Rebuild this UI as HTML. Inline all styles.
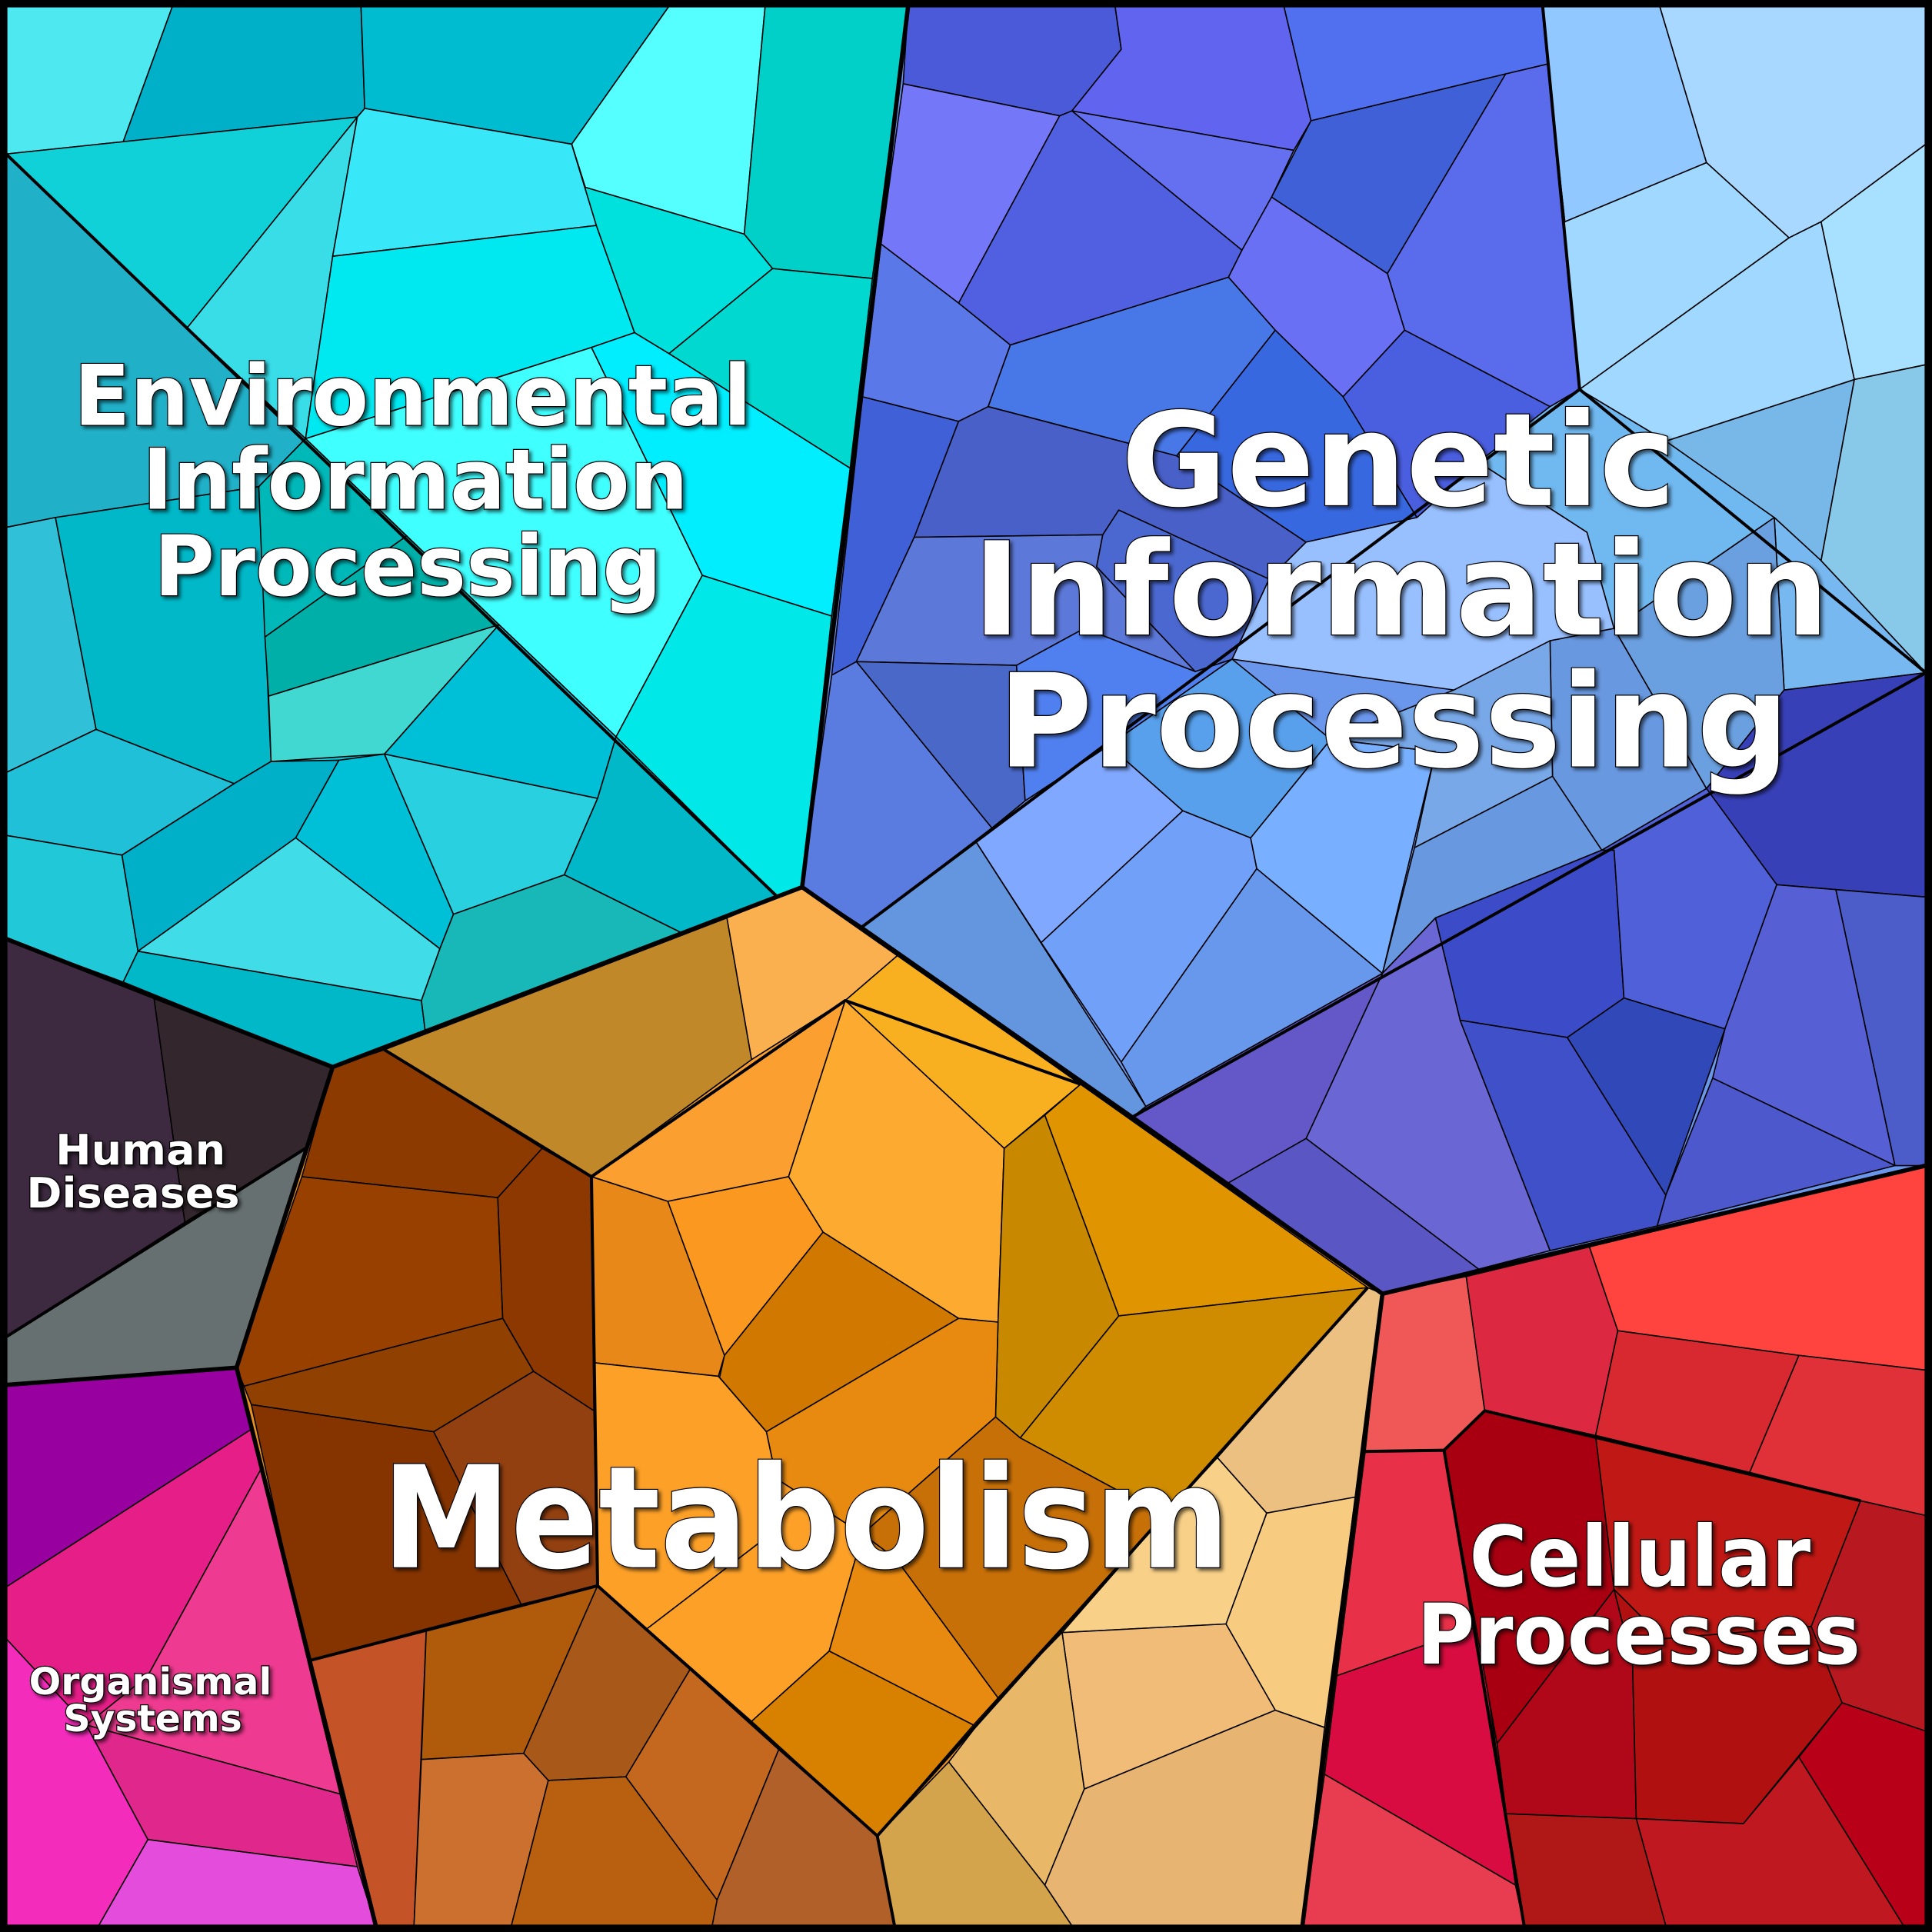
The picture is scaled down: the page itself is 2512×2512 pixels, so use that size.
<!DOCTYPE html>
<html><head><meta charset="utf-8"><style>
html,body{margin:0;padding:0;background:#000;}
svg{display:block;}
.c polygon{stroke:#000;stroke-width:1;stroke-linejoin:round;}
.b{fill:none;stroke:#000;stroke-width:3.5;stroke-linejoin:round;}
text{font-family:"DejaVu Sans","Liberation Sans",sans-serif;font-weight:bold;fill:#fff;stroke:#000;stroke-width:1.5;paint-order:stroke;text-anchor:middle;}
</style></head><body>
<svg width="2512" height="2512" viewBox="0 0 1568 1568" xmlns="http://www.w3.org/2000/svg">
<defs><filter id="sh" x="-5%" y="-5%" width="110%" height="120%"><feDropShadow dx="2" dy="2" stdDeviation="1.5" flood-color="#000" flood-opacity="0.6"/></filter></defs>
<rect width="1568" height="1568" fill="#000"/>
<!-- base region fills -->
<polygon fill="#10c8d8" points="5,5 737,5 651,720 270,866 5,762"/>
<polygon fill="#6a96ec" points="737,5 1563,5 1563,946 1122,1050 651,720"/>
<polygon fill="#e89020" points="651,720 1122,1050 1057,1563 305,1563 192,1110 270,866"/>
<polygon fill="#444" points="5,762 270,866 192,1110 5,1124"/>
<polygon fill="#e0288c" points="5,1124 192,1110 305,1563 5,1563"/>
<polygon fill="#c01820" points="1122,1050 1563,946 1563,1563 1057,1563"/>
<g class="c">
<!-- Environmental -->
<polygon fill="#4de8f0" points="5,5 140,5 100,115 5,125"/>
<polygon fill="#00b0c8" points="140,5 293,5 296,88 290,95 100,115"/>
<polygon fill="#00bcd0" points="293,5 543,5 464,117 296,88"/>
<polygon fill="#55ffff" points="543,5 621,5 604,190 475,152 464,117"/>
<polygon fill="#00d0c8" points="621,5 737,5 708,226 627,218 604,190"/>
<polygon fill="#10d0d8" points="5,125 100,115 290,95 152,266"/>
<polygon fill="#38dde8" points="290,95 270,208 248,356 152,266"/>
<polygon fill="#38e8f8" points="296,88 464,117 484,183 270,208 290,95"/>
<polygon fill="#00e8f0" points="270,208 484,183 515,270 480,282 248,356"/>
<polygon fill="#00e0dc" points="464,117 475,152 604,190 627,218 543,287 515,270 484,183"/>
<polygon fill="#00d8d0" points="627,218 708,226 690,380 543,287"/>
<polygon fill="#00eeff" points="515,270 543,287 690,380 675,500 570,467 480,282"/>
<polygon fill="#40ffff" points="248,356 480,282 570,467 500,598 405,507"/>
<polygon fill="#00e8e8" points="570,467 675,500 651,720 630,727 500,598"/>
<polygon fill="#20b0c8" points="5,125 152,266 248,356 210,395 45,420 5,428"/>
<polygon fill="#30c0d8" points="5,428 45,420 78,592 5,627"/>
<polygon fill="#00b8c8" points="45,420 210,395 220,618 190,636 78,592"/>
<polygon fill="#00b8b8" points="210,395 248,356 330,435 215,517"/>
<polygon fill="#00b0a8" points="215,517 330,435 405,507 218,565"/>
<polygon fill="#40d8d0" points="218,565 405,507 312,612 220,618"/>
<polygon fill="#00c0d8" points="405,507 500,598 485,648 312,612"/>
<polygon fill="#20c0d8" points="5,627 78,592 190,636 99,694 5,678"/>
<polygon fill="#20c8d8" points="5,678 99,694 112,772 100,797 5,762"/>
<polygon fill="#00b0c8" points="99,694 190,636 220,618 275,617 240,680 112,772"/>
<polygon fill="#00c0d8" points="275,617 312,612 368,742 357,770 240,680"/>
<polygon fill="#28d0e0" points="312,612 485,648 458,710 368,742"/>
<polygon fill="#00b8c8" points="485,648 500,598 630,727 553,757 458,710"/>
<polygon fill="#40dce8" points="112,772 240,680 357,770 342,812"/>
<polygon fill="#00b8c8" points="100,797 112,772 342,812 345,836 270,866"/>
<polygon fill="#18b8b8" points="368,742 458,710 553,757 345,836 342,812 357,770"/>
<!-- Genetic -->
<polygon fill="#4a5ad8" points="737,5 905,5 910,40 870,90 860,94 733,68"/>
<polygon fill="#6064ee" points="905,5 1042,5 1064,98 1050,122 870,90 910,40"/>
<polygon fill="#5070f0" points="1042,5 1252,5 1256,52 1222,60 1064,98"/>
<polygon fill="#90c8ff" points="1252,5 1347,5 1385,132 1270,180 1256,52"/>
<polygon fill="#a8d8ff" points="1347,5 1563,5 1563,117 1478,180 1452,193 1385,132"/>
<polygon fill="#7478f8" points="733,68 860,94 778,246 715,198"/>
<polygon fill="#5060e0" points="860,94 870,90 1008,203 997,225 820,280 778,246"/>
<polygon fill="#6470f0" points="870,90 1050,122 1032,160 1008,203"/>
<polygon fill="#4060d8" points="1064,98 1222,60 1126,222 1032,160"/>
<polygon fill="#5a6cec" points="1222,60 1256,52 1282,316 1258,330 1140,268 1126,222"/>
<polygon fill="#6a70f4" points="1032,160 1126,222 1140,268 1090,322 1035,268 997,225 1008,203"/>
<polygon fill="#5a78e8" points="715,198 778,246 820,280 802,330 778,342 700,322"/>
<polygon fill="#4878e8" points="820,280 997,225 1035,268 955,370 802,330"/>
<polygon fill="#3868e0" points="1035,268 1090,322 1150,420 1060,440 955,370"/>
<polygon fill="#4a5ee0" points="1140,268 1258,330 1200,375 1150,420 1090,322"/>
<polygon fill="#4060d8" points="700,322 778,342 742,436 695,537 675,548"/>
<polygon fill="#4860c8" points="778,342 802,330 955,370 1060,440 1030,470 908,414 895,434 742,436"/>
<polygon fill="#5c78d8" points="742,436 895,434 890,460 970,545 880,510 825,540 695,537"/>
<polygon fill="#4a68c8" points="695,537 825,540 832,650 805,672"/>
<polygon fill="#5a7ce0" points="675,548 695,537 805,672 700,752 651,720"/>
<polygon fill="#5080f0" points="825,540 880,510 970,545 1000,535 900,605 832,650"/>
<polygon fill="#4a68d0" points="895,434 908,414 1030,470 1000,535 970,545 890,460"/>
<polygon fill="#6496e0" points="700,752 792,683 930,898 920,906"/>
<polygon fill="#80a8ff" points="792,683 832,650 900,605 960,658 845,765"/>
<polygon fill="#70a0f8" points="845,765 960,658 1015,680 1020,705 910,862"/>
<polygon fill="#6898ec" points="910,862 1020,705 1122,790 930,898"/>
<polygon fill="#78b0ff" points="1015,680 1080,600 1165,610 1122,790 1020,705"/>
<polygon fill="#58a0ec" points="900,605 1000,535 1080,600 1015,680 960,658"/>
<polygon fill="#98c0ff" points="1060,440 1150,420 1200,375 1288,432 1310,510 1180,560 1000,535 1030,470"/>
<polygon fill="#6898e0" points="1258,520 1310,510 1385,640 1300,690 1260,630"/>
<polygon fill="#78a8e8" points="1080,600 1180,560 1258,520 1260,630 1148,688 1165,610"/>
<polygon fill="#6898e0" points="1148,688 1260,630 1300,690 1165,745 1122,790"/>
<polygon fill="#70b8f0" points="1258,330 1282,316 1352,358 1440,420 1310,510 1288,432 1200,375"/>
<polygon fill="#78b8e8" points="1352,358 1505,308 1478,455 1440,420"/>
<polygon fill="#78b8f0" points="1440,420 1478,455 1563,546 1448,560"/>
<polygon fill="#6aa0e0" points="1310,510 1440,420 1448,560 1385,640"/>
<polygon fill="#a0d8ff" points="1256,52 1270,180 1385,132 1452,193 1282,316"/>
<polygon fill="#a0d8ff" points="1452,193 1478,180 1505,308 1352,358 1282,316"/>
<polygon fill="#a8e0ff" points="1478,180 1563,117 1563,296 1505,308"/>
<polygon fill="#88c8e8" points="1505,308 1563,296 1563,546 1478,455"/>
<polygon fill="#3840b8" points="1385,640 1448,560 1563,546 1563,728 1442,718"/>
<polygon fill="#3c4cc8" points="1165,745 1300,690 1310,690 1318,810 1272,842 1185,828"/>
<polygon fill="#5060d8" points="1300,690 1385,640 1442,718 1400,835 1318,810 1310,690"/>
<polygon fill="#6a66d4" points="1122,790 1165,745 1185,828 1258,1015 1200,1030 1060,924"/>
<polygon fill="#6458c8" points="920,906 930,898 1122,790 1060,924 997,960"/>
<polygon fill="#5a56c4" points="997,960 1060,924 1200,1030 1122,1050"/>
<polygon fill="#4050c8" points="1185,828 1272,842 1352,970 1345,995 1258,1015"/>
<polygon fill="#3048b8" points="1272,842 1318,810 1400,835 1352,970"/>
<polygon fill="#5660d4" points="1400,835 1442,718 1490,722 1538,946 1390,875"/>
<polygon fill="#4c58cc" points="1352,970 1390,875 1538,946 1345,995"/>
<polygon fill="#4c5cc8" points="1490,722 1563,728 1563,946 1538,946"/>
<!-- Metabolism -->
<polygon fill="#c08828" points="312,852 590,745 610,860 480,955"/>
<polygon fill="#fbb050" points="590,745 651,720 729,775 686,812 610,860"/>
<polygon fill="#f8b020" points="729,775 877,880 815,932 686,812"/>
<polygon fill="#fba030" points="610,860 686,812 640,955 542,975 480,955"/>
<polygon fill="#fdaa30" points="686,812 815,932 810,1073 778,1070 668,1000 640,955"/>
<polygon fill="#e88818" points="480,955 542,975 588,1100 583,1117 482,1106"/>
<polygon fill="#fb9820" points="542,975 640,955 668,1000 588,1100"/>
<polygon fill="#d07800" points="588,1100 668,1000 778,1070 622,1162 584,1118"/>
<polygon fill="#c88800" points="815,932 848,905 908,1068 828,1167 808,1150 810,1073"/>
<polygon fill="#e09400" points="848,905 877,880 1110,1045 908,1068"/>
<polygon fill="#d08c00" points="908,1068 1110,1045 988,1183 945,1230 828,1167"/>
<polygon fill="#e88a10" points="778,1070 810,1073 808,1150 700,1245 630,1200 622,1162"/>
<polygon fill="#fca028" points="482,1106 583,1117 622,1162 630,1200 632,1240 525,1322 485,1287"/>
<polygon fill="#fca028" points="632,1240 630,1200 700,1245 673,1340 610,1397 525,1322"/>
<polygon fill="#c87008" points="808,1150 828,1167 945,1230 810,1378 727,1265 700,1245"/>
<polygon fill="#e88a10" points="673,1340 700,1245 727,1265 810,1378 790,1400"/>
<polygon fill="#d88000" points="610,1397 673,1340 790,1400 712,1490"/>
<polygon fill="#ecc080" points="988,1183 1110,1045 1122,1050 1100,1215 1028,1228"/>
<polygon fill="#f8cc80" points="1028,1228 1100,1215 1075,1402 1035,1388 995,1318"/>
<polygon fill="#f8d088" points="945,1230 988,1183 1028,1228 995,1318 862,1325"/>
<polygon fill="#f0bc78" points="862,1325 995,1318 1035,1388 880,1452"/>
<polygon fill="#e8b868" points="810,1378 862,1325 880,1452 848,1530 770,1430"/>
<polygon fill="#e8b472" points="880,1452 1035,1388 1075,1402 1057,1563 870,1563 848,1530"/>
<polygon fill="#d4a44c" points="712,1490 770,1430 848,1530 870,1563 726,1563"/>
<polygon fill="#8c3a00" points="270,866 312,852 440,932 404,972 245,955"/>
<polygon fill="#984000" points="245,955 404,972 408,1070 198,1125 192,1110"/>
<polygon fill="#8c3800" points="404,972 440,932 480,955 482,1145 433,1113 408,1070"/>
<polygon fill="#904000" points="198,1125 408,1070 433,1113 352,1162 204,1140"/>
<polygon fill="#853400" points="204,1140 352,1162 423,1302 250,1348"/>
<polygon fill="#934010" points="352,1162 433,1113 482,1145 485,1287 423,1302"/>
<polygon fill="#c45428" points="250,1348 346,1322 336,1563 305,1563"/>
<polygon fill="#b05a0c" points="346,1322 423,1302 485,1287 425,1423 342,1428"/>
<polygon fill="#a85818" points="485,1287 560,1355 508,1442 445,1445 425,1423"/>
<polygon fill="#cc7030" points="342,1428 425,1423 445,1445 415,1563 336,1563"/>
<polygon fill="#b86010" points="445,1445 508,1442 582,1542 578,1563 415,1563"/>
<polygon fill="#c46820" points="560,1355 632,1420 582,1542 508,1442"/>
<polygon fill="#b06028" points="632,1420 712,1490 726,1563 578,1563 582,1542"/>
<!-- Human diseases -->
<polygon fill="#3e2a40" points="5,762 125,810 150,992 5,1085"/>
<polygon fill="#33262c" points="125,810 270,866 248,932 150,992"/>
<polygon fill="#667070" points="5,1085 248,932 192,1110 5,1124"/>
<!-- Organismal -->
<polygon fill="#9800a0" points="5,1124 192,1110 204,1160 5,1288"/>
<polygon fill="#e61e88" points="5,1288 204,1160 212,1192 120,1360 70,1400 5,1330"/>
<polygon fill="#ee3a90" points="120,1360 212,1192 276,1456 70,1400"/>
<polygon fill="#e0288c" points="70,1400 276,1456 290,1515 120,1493"/>
<polygon fill="#f42cbc" points="5,1330 70,1400 120,1493 80,1563 5,1563"/>
<polygon fill="#e44cdc" points="120,1493 290,1515 305,1563 80,1563"/>
<!-- Cellular -->
<polygon fill="#f05858" points="1122,1050 1190,1036 1205,1145 1172,1177 1108,1178"/>
<polygon fill="#dc2840" points="1190,1036 1290,1012 1313,1080 1295,1165 1205,1145"/>
<polygon fill="#ff4440" points="1290,1012 1563,946 1563,1112 1460,1100 1313,1080"/>
<polygon fill="#d82830" points="1313,1080 1460,1100 1420,1195 1295,1165"/>
<polygon fill="#e03038" points="1460,1100 1563,1112 1563,1230 1510,1218 1420,1195"/>
<polygon fill="#e83048" points="1108,1178 1172,1177 1215,1415 1200,1320 1085,1360"/>
<polygon fill="#d80c40" points="1085,1360 1200,1320 1230,1530 1075,1440"/>
<polygon fill="#e83c50" points="1075,1440 1230,1530 1237,1563 1057,1563"/>
<polygon fill="#a80010" points="1172,1177 1205,1145 1295,1165 1310,1290 1215,1415"/>
<polygon fill="#c01814" points="1295,1165 1420,1195 1510,1218 1470,1320 1350,1330 1310,1290"/>
<polygon fill="#b81820" points="1510,1218 1563,1230 1563,1405 1495,1382 1470,1320"/>
<polygon fill="#b00818" points="1215,1415 1310,1290 1325,1350 1328,1476 1222,1472"/>
<polygon fill="#b01010" points="1310,1290 1350,1330 1470,1320 1495,1382 1415,1480 1328,1476 1325,1350"/>
<polygon fill="#b01818" points="1215,1415 1222,1472 1328,1476 1352,1563 1237,1563 1230,1530"/>
<polygon fill="#c01820" points="1328,1476 1415,1480 1460,1426 1545,1563 1352,1563"/>
<polygon fill="#b80018" points="1460,1426 1495,1382 1563,1405 1563,1563 1545,1563"/>
</g>
<!-- sub-group borders -->
<polyline class="b" style="stroke-width:2.5" points="5,125 630,727"/>
<polyline class="b" style="stroke-width:2.5" points="1252,5 1282,316 1563,546"/>
<polyline class="b" style="stroke-width:2.5" points="700,752 1282,316"/>
<polyline class="b" style="stroke-width:2.5" points="920,906 1563,546"/>
<polyline class="b" style="stroke-width:2.5" points="480,955 312,852"/>
<polyline class="b" style="stroke-width:2.5" points="480,955 686,812 877,880"/>
<polyline class="b" style="stroke-width:2.5" points="480,955 485,1287 712,1490 1110,1045"/>
<polyline class="b" style="stroke-width:2.5" points="485,1287 250,1348"/>
<polyline class="b" style="stroke-width:2.5" points="712,1490 726,1563"/>
<polyline class="b" style="stroke-width:2.5" points="5,1085 248,932"/>
<polyline class="b" style="stroke-width:2.5" points="1172,1177 1205,1145 1510,1218"/>
<polyline class="b" style="stroke-width:2.5" points="1108,1178 1172,1177 1237,1563"/>
<!-- main borders -->
<polyline class="b" points="737,5 651,720 270,866 5,762"/>
<polyline class="b" points="651,720 1122,1050 1563,946"/>
<polyline class="b" points="1122,1050 1057,1563"/>
<polyline class="b" points="270,866 192,1110 305,1563"/>
<polyline class="b" points="5,1124 192,1110"/>
<rect x="3" y="3" width="1562" height="1562" fill="none" stroke="#000" stroke-width="6"/>
<!-- labels -->
<g filter="url(#sh)">
<text x="335" y="345" font-size="68" textLength="550" lengthAdjust="spacingAndGlyphs">Environmental</text>
<text x="337" y="413" font-size="68" textLength="443" lengthAdjust="spacingAndGlyphs">Information</text>
<text x="331" y="483" font-size="68" textLength="412" lengthAdjust="spacingAndGlyphs">Processing</text>
<text x="1135" y="410" font-size="105" textLength="450" lengthAdjust="spacingAndGlyphs">Genetic</text>
<text x="1137" y="515" font-size="105" textLength="695" lengthAdjust="spacingAndGlyphs">Information</text>
<text x="1131" y="622" font-size="105" textLength="642" lengthAdjust="spacingAndGlyphs">Processing</text>
<text x="654" y="1272" font-size="115" textLength="688" lengthAdjust="spacingAndGlyphs">Metabolism</text>
<text x="1331" y="1287" font-size="68" textLength="277" lengthAdjust="spacingAndGlyphs">Cellular</text>
<text x="1330" y="1350" font-size="68" textLength="360" lengthAdjust="spacingAndGlyphs">Processes</text>
<text x="114" y="945" font-size="34" textLength="138" lengthAdjust="spacingAndGlyphs">Human</text>
<text x="108" y="980" font-size="34" textLength="173" lengthAdjust="spacingAndGlyphs">Diseases</text>
<text x="122" y="1375" font-size="30" textLength="197" lengthAdjust="spacingAndGlyphs">Organismal</text>
<text x="124" y="1405" font-size="30" textLength="145" lengthAdjust="spacingAndGlyphs">Systems</text>
</g>
</svg>
</body></html>
